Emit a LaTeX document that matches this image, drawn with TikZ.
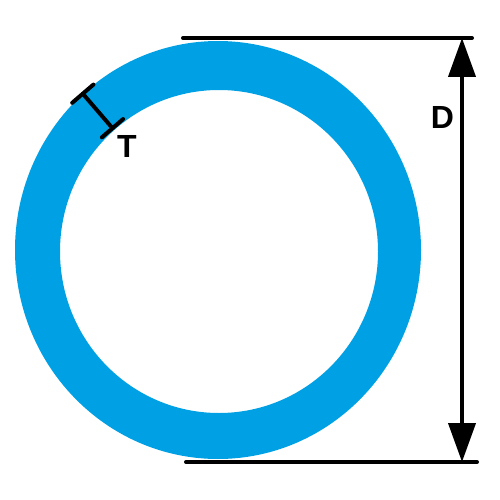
\documentclass[tikz,border=0pt]{standalone}
\usepackage{fontspec}
\setmainfont{Liberation Sans}
\usetikzlibrary{arrows.meta,calc}
\definecolor{ringblue}{RGB}{0,161,228}
\tikzset{
  dimline/.style={line width=4pt, line cap=round},
  dimarrow/.style={line width=4pt, {Triangle[width=27pt,length=39pt]}-{Triangle[width=27pt,length=39pt]}},
  lbl/.style={inner sep=0pt, font=\bfseries\fontsize{32}{32}\selectfont}
}
\begin{document}
\begin{tikzpicture}[x=1pt,y=-1pt]
\useasboundingbox (0,0) rectangle (500,500);
% ring
\fill[ringblue, even odd rule] (218,250) ellipse [x radius=203, y radius=209]
  (219,251.5) ellipse [x radius=159, y radius=161.5];
% extension lines
\coordinate (tl) at (183,38);
\coordinate (tr) at (472,38);
\coordinate (bl) at (186,462);
\coordinate (br) at (477,462);
\draw[dimline] (tl) -- (tr);
\draw[dimline] (bl) -- (br);
% D dimension
\coordinate (dtop) at (462,38);
\coordinate (dbot) at (462,462);
\draw[dimarrow] (dtop) -- (dbot);
\node[lbl] (D) at (442.5,117.5) {D};
% T dimension
\coordinate (to) at (82.8,93.7);
\coordinate (ti) at (112.5,128.2);
\draw[dimline] (to) -- (ti);
\draw[dimline] ($(to)!14pt!90:(ti)$) -- ($(to)!14pt!-90:(ti)$);
\draw[dimline] ($(ti)!14pt!90:(to)$) -- ($(ti)!14pt!-90:(to)$);
\node[lbl] (T) at (127,146) {T};
\end{tikzpicture}
\end{document}
